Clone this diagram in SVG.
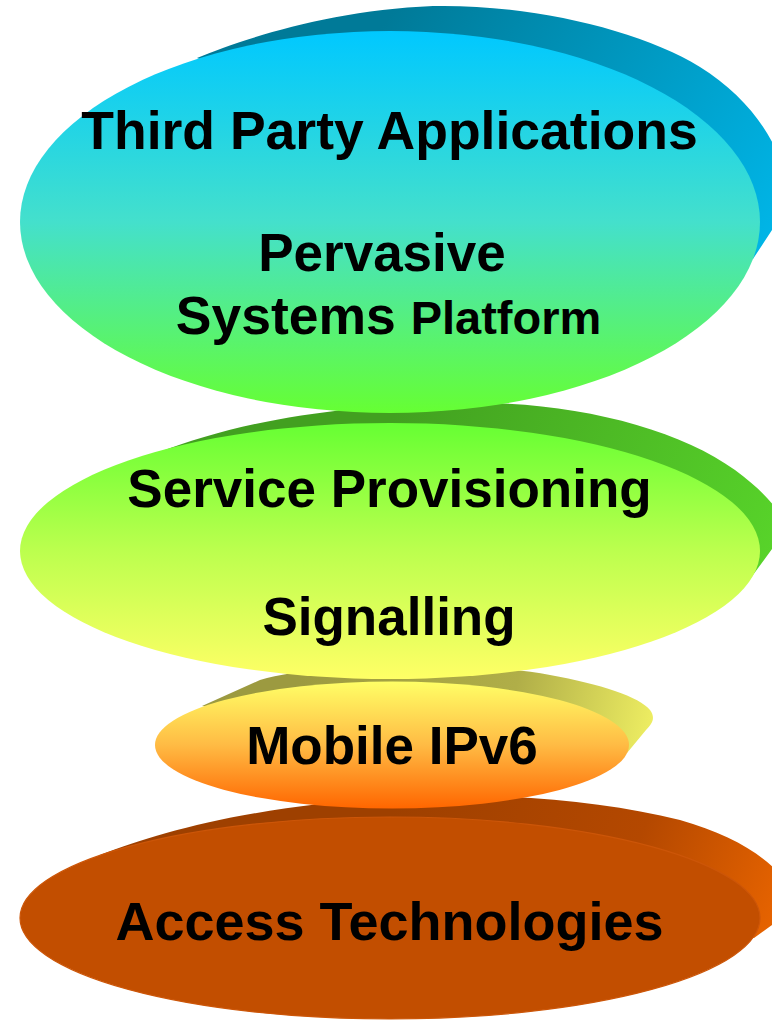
<svg xmlns="http://www.w3.org/2000/svg" width="772" height="1020" viewBox="0 0 772 1020">
  <defs>
    <!-- face gradients (top to bottom) -->
    <linearGradient id="faceApps" x1="0" y1="0" x2="0" y2="1">
      <stop offset="0" stop-color="#00c8ff"/>
      <stop offset="0.5" stop-color="#44e0cc"/>
      <stop offset="1" stop-color="#66ff33"/>
    </linearGradient>
    <linearGradient id="faceSignal" x1="0" y1="0" x2="0" y2="1">
      <stop offset="0" stop-color="#66ff33"/>
      <stop offset="0.5" stop-color="#bcff4e"/>
      <stop offset="1" stop-color="#ffff66"/>
    </linearGradient>
    <linearGradient id="faceMip" x1="0" y1="0" x2="0" y2="1">
      <stop offset="0" stop-color="#ffff66"/>
      <stop offset="0.5" stop-color="#ffbb44"/>
      <stop offset="1" stop-color="#ff6600"/>
    </linearGradient>
    <!-- extrusion side gradients -->
    <linearGradient id="sideApps" gradientUnits="userSpaceOnUse" x1="400" y1="0" x2="772" y2="250">
      <stop offset="0" stop-color="#007a98"/>
      <stop offset="1" stop-color="#00b6e8"/>
    </linearGradient>
    <linearGradient id="sideSignal" gradientUnits="userSpaceOnUse" x1="400" y1="400" x2="772" y2="570">
      <stop offset="0" stop-color="#42a020"/>
      <stop offset="1" stop-color="#58d42a"/>
    </linearGradient>
    <linearGradient id="sideMip" gradientUnits="userSpaceOnUse" x1="300" y1="670" x2="650" y2="745">
      <stop offset="0" stop-color="#9c9a40"/>
      <stop offset="0.6" stop-color="#b0ae48"/>
      <stop offset="1" stop-color="#eeee62"/>
    </linearGradient>
    <linearGradient id="sideAccess" gradientUnits="userSpaceOnUse" x1="400" y1="790" x2="772" y2="940">
      <stop offset="0" stop-color="#9e4000"/>
      <stop offset="0.6" stop-color="#b44800"/>
      <stop offset="1" stop-color="#e86400"/>
    </linearGradient>
  </defs>
  <style>
    .label { font-family: "Liberation Sans", Arial, sans-serif; font-weight: bold; fill: #000; text-anchor: middle; }
  </style>

  <rect width="772" height="1020" fill="#ffffff"/>

  <!-- bottom layer first, so each upper disc overlaps the one below -->
  <g id="layer-access">
    <path d="M100,855 C160,832 250,806 400,797 C500,792 600,800 680,820 C730,834 765,855 785,880 C795,895 790,915 772,925 L754,938 Z" fill="url(#sideAccess)"/>
    <ellipse cx="390" cy="918" rx="370" ry="101" fill="#c24e00" stroke="#cc5608" stroke-width="1.2"/>
    <text class="label" x="389.5" y="940" font-size="54">Access Technologies</text>
  </g>

  <g id="layer-mipv6">
    <path d="M202,706 L260,680 C330,660 480,662 550,675 C600,684 640,697 650,710 C656,718 652,724 646,730 L627,753 Z" fill="url(#sideMip)"/>
    <ellipse cx="392" cy="745" rx="237" ry="63.5" fill="url(#faceMip)"/>
    <text class="label" x="392" y="764" font-size="53">Mobile IPv6</text>
  </g>

  <g id="layer-signalling">
    <path d="M160,452 C230,425 330,403 480,403 C580,403 680,430 735,470 C765,492 785,515 785,530 C785,540 778,545 772,549 L750,579 Z" fill="url(#sideSignal)"/>
    <ellipse cx="390" cy="551" rx="370" ry="128" fill="url(#faceSignal)"/>
    <text class="label" x="389.5" y="507" font-size="53">Service Provisioning</text>
    <text class="label" x="389" y="635" font-size="53">Signalling</text>
  </g>

  <g id="layer-apps">
    <path d="M197,58 C240,40 330,10 433,6 C530,4 640,30 700,67 C745,95 775,135 785,175 C792,200 788,215 772,230 L753,259 Z" fill="url(#sideApps)"/>
    <ellipse cx="390" cy="222" rx="370" ry="191" fill="url(#faceApps)"/>
    <text class="label" x="389.5" y="149" font-size="53.5">Third Party Applications</text>
    <text class="label" x="382" y="271" font-size="53">Pervasive</text>
    <text class="label" x="388.5" y="334"><tspan font-size="53.5">Systems </tspan><tspan font-size="47">Platform</tspan></text>
  </g>
</svg>
